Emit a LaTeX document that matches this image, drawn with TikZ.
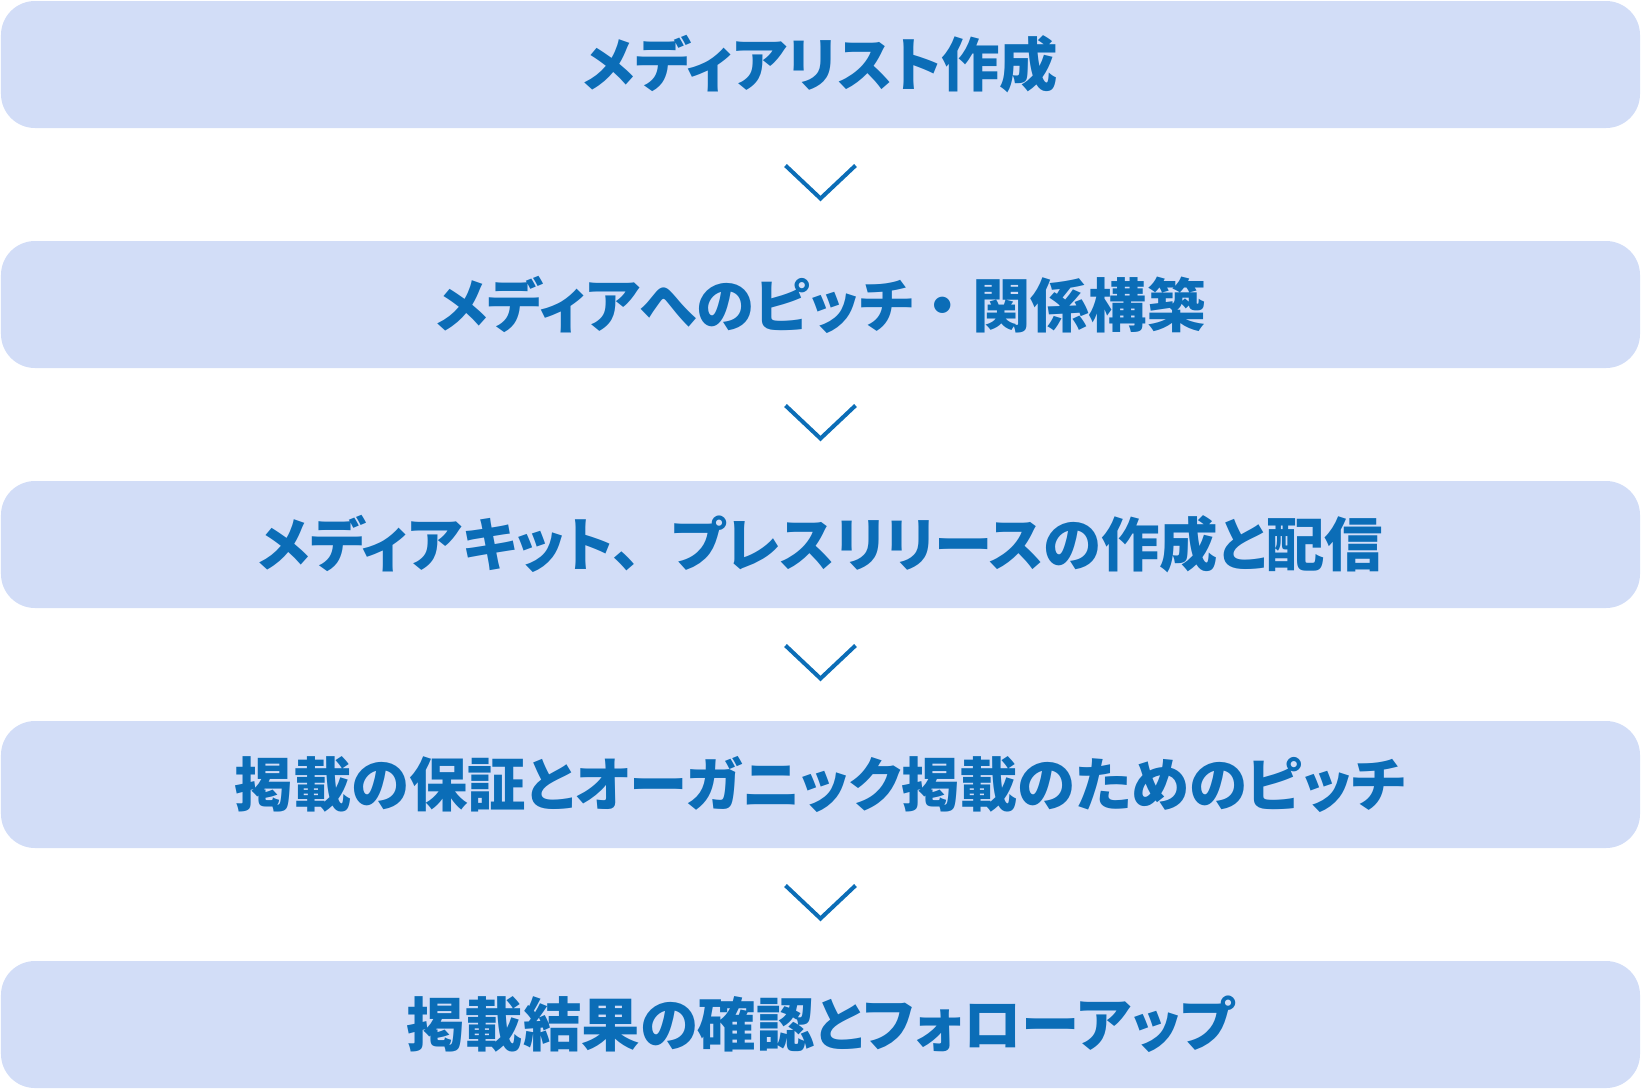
\documentclass[tikz,border=0pt]{standalone}
\usepackage{fontspec}
\newfontfamily\jpfont{Noto Sans CJK JP}[BoldFont={Noto Sans CJK JP Black}, RawFeature=+palt]
\usepackage{tikz}
\usetikzlibrary{calc}

\definecolor{stepfill}{HTML}{D2DDF7}
\definecolor{stepblue}{HTML}{0B6DB7}

\newcommand{\steptext}[1]{\raisebox{-2.5pt}{#1}}

\begin{document}
\begin{tikzpicture}[node distance=120pt,
                    stepbox/.style={rectangle, rounded corners=17pt, fill=stepfill,
                      minimum width=819.5pt, minimum height=63.5pt, inner sep=0pt,
                      text=stepblue, font=\jpfont\bfseries\fontsize{29.2pt}{32pt}\selectfont},
                    chev/.style={draw=stepblue, line width=2pt}]

  \useasboundingbox (-410.25pt,0pt) rectangle (410.25pt,-544.5pt);

  \node [stepbox] (1) at (0,-32.25pt) {\steptext{メディアリスト作成}};
  \node [stepbox] (2) [below of= 1] {\steptext{メディアへのピッチ\hspace{.25em}・\hspace{.25em}関係構築}};
  \node [stepbox] (3) [below of= 2] {\steptext{メディアキット、\hspace{.5em}プレスリリースの作成と配信}};
  \node [stepbox] (4) [below of= 3] {\steptext{掲載の保証とオーガニック掲載のためのピッチ}};
  \node [stepbox] (5) [below of= 4] {\steptext{掲載結果の確認とフォローアップ}};

  \foreach \a/\b in {1/2, 2/3, 3/4, 4/5} {
    \coordinate (m\a) at ($(\a.south)!0.5!(\b.north)$);
    \draw [chev] ($(m\a)+(-17.5pt,9.5pt)$) -- ($(m\a)+(0,-7pt)$) -- ($(m\a)+(17.5pt,9.5pt)$);
  }
\end{tikzpicture}
\end{document}
